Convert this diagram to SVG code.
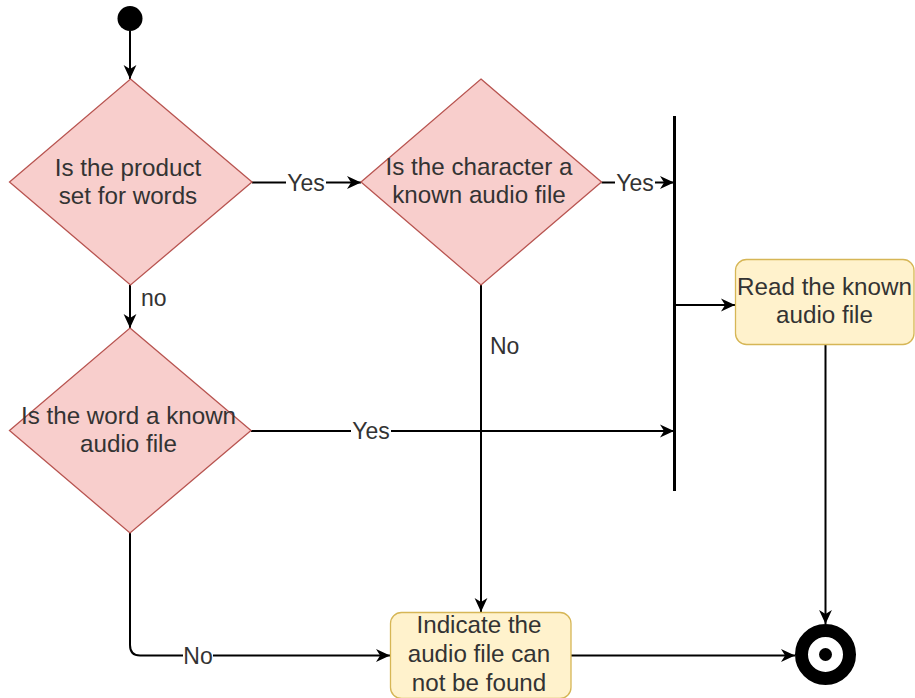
<svg xmlns="http://www.w3.org/2000/svg" width="915" height="698" viewBox="0 0 915 698">
<style>
.dia{fill:#f8cecc;stroke:#b85450;stroke-width:1.3}
.box{fill:#fff2cc;stroke:#d6b656;stroke-width:1.3}
.t{font-family:"Liberation Sans",Arial,sans-serif;font-size:24.2px;fill:#333333;text-anchor:middle}
.lbl{font-family:"Liberation Sans",Arial,sans-serif;font-size:23px;fill:#333333;text-anchor:middle}
.e{fill:none;stroke:#000;stroke-width:2;marker-end:url(#arr)}
.bg{fill:#ffffff}
</style>
<defs>
<marker id="arr" viewBox="0 0 12 12" refX="12" refY="6" markerWidth="14" markerHeight="14" markerUnits="userSpaceOnUse" orient="auto">
<path d="M0,0.5 L12,6 L0,11.5 L3.5,6 z" fill="#000"/>
</marker>
</defs>
<rect width="915" height="698" fill="#ffffff"/>
<g id="connectors">
<path class="e" d="M130,31 L130,79"/>
<path class="e" d="M252,182.5 L361,182.5"/>
<path class="e" d="M601.5,182.5 L674,182.5"/>
<path class="e" d="M130,285 L130,328"/>
<path class="e" d="M251,431 L674,431"/>
<path class="e" d="M676,305 L735,305"/>
<path class="e" d="M481,285 L481,612"/>
<path class="e" d="M130,533 L130,645 Q130,655.5 140,655.5 L390,655.5"/>
<path class="e" d="M571,655.5 L795,655.5"/>
<path class="e" d="M825.5,344 L825.5,624"/>
<rect class="bg" x="286" y="170" width="40" height="26"/>
<text class="lbl" x="306" y="191">Yes</text>
<rect class="bg" x="615" y="170" width="40" height="26"/>
<text class="lbl" x="635" y="191">Yes</text>
<rect class="bg" x="351" y="418" width="40" height="26"/>
<text class="lbl" x="371" y="439">Yes</text>
<rect class="bg" x="183" y="643" width="30" height="26"/>
<text class="lbl" x="198" y="664">No</text>
<text class="lbl" x="490" y="354" style="text-anchor:start">No</text>
<text class="lbl" x="141" y="306" style="text-anchor:start">no</text>
</g>
<g id="start">
<circle cx="130" cy="18.5" r="12.5" fill="#000"/>
</g>
<g id="d1">
<polygon class="dia" points="130.5,79 252,182 130.5,285 9.5,182"/>
<text class="t" x="128" y="176">Is the product</text>
<text class="t" x="128" y="204">set for words</text>
</g>
<g id="d2">
<polygon class="dia" points="481,79 601.5,182 481,285 361,182"/>
<text class="t" x="479" y="175">Is the character a</text>
<text class="t" x="479" y="203">known audio file</text>
</g>
<g id="d3">
<polygon class="dia" points="130,328 251,430.5 130,533 9.5,430.5"/>
<text class="t" x="128.5" y="424">Is the word a known</text>
<text class="t" x="128.5" y="452">audio file</text>
</g>
<g id="bar">
<line x1="674.5" y1="116" x2="674.5" y2="491" stroke="#000" stroke-width="3"/>
</g>
<g id="read">
<rect class="box" x="735.5" y="259.5" width="178.5" height="85" rx="11"/>
<text class="t" x="824.5" y="295">Read the known</text>
<text class="t" x="824.5" y="323">audio file</text>
</g>
<g id="indicate">
<rect class="box" x="390.5" y="612.5" width="180.5" height="86" rx="11"/>
<text class="t" x="479" y="633">Indicate the</text>
<text class="t" x="479" y="662">audio file can</text>
<text class="t" x="479" y="691">not be found</text>
</g>
<g id="end">
<circle cx="825.5" cy="654.5" r="24" fill="none" stroke="#000" stroke-width="13"/>
<circle cx="825.5" cy="654.5" r="6.5" fill="#000"/>
</g>
</svg>
